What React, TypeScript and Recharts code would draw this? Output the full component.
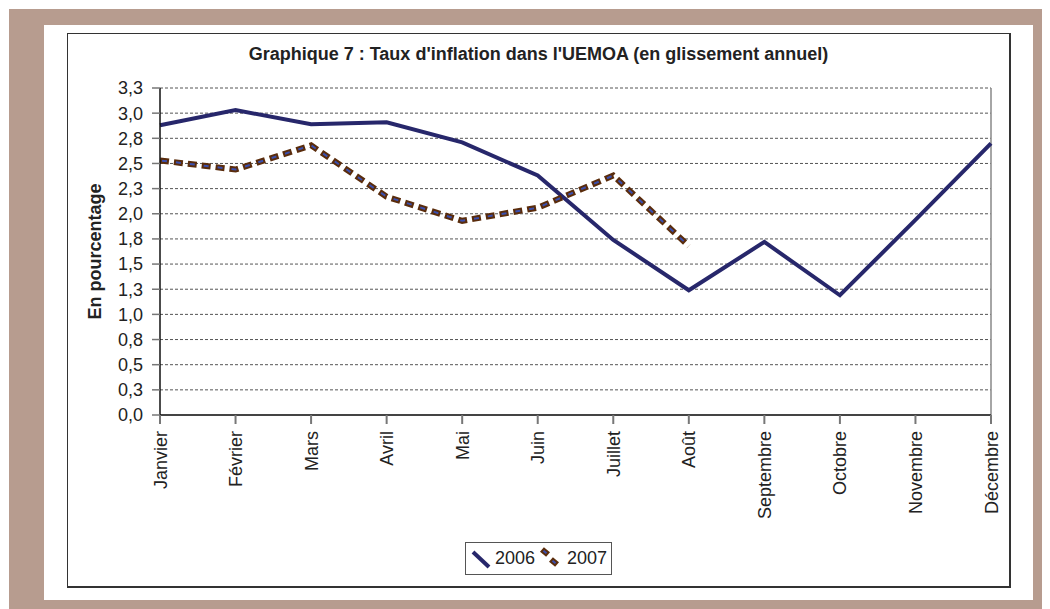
import React from 'react';
import { LineChart, Line, XAxis, YAxis, CartesianGrid, Legend, ReferenceLine } from 'recharts';

const months = ['Janvier', 'Février', 'Mars', 'Avril', 'Mai', 'Juin', 'Juillet', 'Août', 'Septembre', 'Octobre', 'Novembre', 'Décembre'];
const series2006 = [2.88, 3.03, 2.89, 2.91, 2.71, 2.38, 1.74, 1.24, 1.72, 1.19, 1.94, 2.70];
const series2007: (number | null)[] = [2.53, 2.44, 2.68, 2.17, 1.93, 2.06, 2.38, 1.68, null, null, null, null];
const yTicks = [0, 0.25, 0.5, 0.75, 1, 1.25, 1.5, 1.75, 2, 2.25, 2.5, 2.75, 3, 3.25];
const title = "Graphique 7 : Taux d'inflation dans l'UEMOA (en glissement annuel)";
const yLabel = 'En pourcentage';

const data = months.map((m, i) => ({ month: m, y2006: series2006[i], y2007: series2007[i] }));

const FONT = '"Liberation Sans", Arial, sans-serif';
const NAVY = '#27276b';
const BROWN = '#5a2c0c';
const BLUE_CORE = '#3a4fae';

const fmt = (v: number) => v.toFixed(1).replace('.', ',');

const XTick = (props: any) => {
  const { x, y, payload } = props;
  return (
    <g transform={`translate(${x},${y})`}>
      <text transform="rotate(-90)" x={0} y={6.5} textAnchor="end" fontSize={18} fontFamily={FONT} fill="#222">
        {payload.value}
      </text>
    </g>
  );
};

const LegendBox = () => (
  <div style={{ border: '1px solid #555', height: 31, width: 145, display: 'flex', alignItems: 'center', fontFamily: FONT, fontSize: 18, color: '#222', background: '#fff', boxSizing: 'content-box' }}>
    <svg width={28} height={31} style={{ display: 'block' }}>
      <line x1={7} y1={9} x2={23} y2={24} stroke={NAVY} strokeWidth={4} />
    </svg>
    <span style={{ marginLeft: 1 }}>2006</span>
    <svg width={32} height={31} style={{ display: 'block' }}>
      <g transform="translate(10,9) rotate(40)">
        <rect x={-4} y={-3} width={8} height={6} fill={BROWN} />
        <rect x={-2} y={-1} width={4} height={2} fill={BLUE_CORE} />
      </g>
      <g transform="translate(19,19) rotate(40)">
        <rect x={-4} y={-3} width={8} height={6} fill={BROWN} />
        <rect x={-2} y={-1} width={4} height={2} fill={BLUE_CORE} />
      </g>
    </svg>
    <span>2007</span>
  </div>
);

export default function App() {
  return (
    <div style={{ position: 'relative', width: 1042, height: 601 }}>
      <div style={{ position: 'absolute', left: 1, top: 1, width: 1041, height: 600, background: '#b79c8f' }} />
      <div style={{ position: 'absolute', left: 36, top: 17, width: 989, height: 575, background: '#fff' }} />
      <div style={{ position: 'absolute', left: 59, top: 25, width: 941, height: 552, borderTop: '1px solid #333', borderLeft: '1px solid #333', borderRight: '2px solid #333', borderBottom: '2px solid #333', background: '#fff' }}>
        <div style={{ position: 'absolute', left: 0, top: 10, width: 941, textAlign: 'center', fontFamily: FONT, fontWeight: 'bold', fontSize: 18, color: '#222' }}>
          {title}
        </div>
        <LineChart width={941} height={552} data={data} margin={{ top: 54, right: 18, bottom: 51, left: 0 }}>
          <CartesianGrid vertical={false} stroke="#555" strokeDasharray="3 2" />
          <XAxis
            dataKey="month"
            interval={0}
            height={120}
            tick={<XTick />}
            tickSize={9}
            tickMargin={7}
            axisLine={{ stroke: '#444', strokeWidth: 2 }}
            tickLine={{ stroke: '#777', strokeWidth: 2 }}
          />
          <YAxis
            width={92}
            domain={[0, 3.25]}
            ticks={yTicks}
            interval={0}
            tickFormatter={fmt}
            tickSize={8}
            tickMargin={9}
            tick={{ fontSize: 18, fontFamily: FONT, fill: '#222' }}
            axisLine={{ stroke: '#111', strokeWidth: 1.5 }}
            tickLine={{ stroke: '#777', strokeWidth: 1.5 }}
            label={{
              content: (p: any) => {
                const vb = p.viewBox || {};
                return (
                  <text
                    transform={`rotate(-90, ${vb.x + 33}, ${vb.y + vb.height / 2})`}
                    x={vb.x + 33}
                    y={vb.y + vb.height / 2}
                    textAnchor="middle"
                    fontSize={18}
                    fontWeight="bold"
                    fontFamily={FONT}
                    fill="#222"
                  >
                    {yLabel}
                  </text>
                );
              },
            }}
          />
          <ReferenceLine x="Décembre" stroke="#888" strokeWidth={1.5} />
          <Line type="linear" dataKey="y2006" name="2006" stroke={NAVY} strokeWidth={4} dot={false} isAnimationActive={false} />
          <Line type="linear" dataKey="y2007" name="2007" stroke={BROWN} strokeWidth={6} strokeDasharray="9 5" dot={false} isAnimationActive={false} legendType="none" />
          <Line type="linear" dataKey="y2007" name="2007c" stroke={BLUE_CORE} strokeWidth={2} strokeDasharray="0 2 5 7" dot={false} isAnimationActive={false} legendType="none" />
          <Legend
            layout="horizontal"
            verticalAlign="middle"
            align="center"
            wrapperStyle={{ left: 397, top: 508, width: 147 }}
            content={<LegendBox />}
          />
        </LineChart>
      </div>
    </div>
  );
}
